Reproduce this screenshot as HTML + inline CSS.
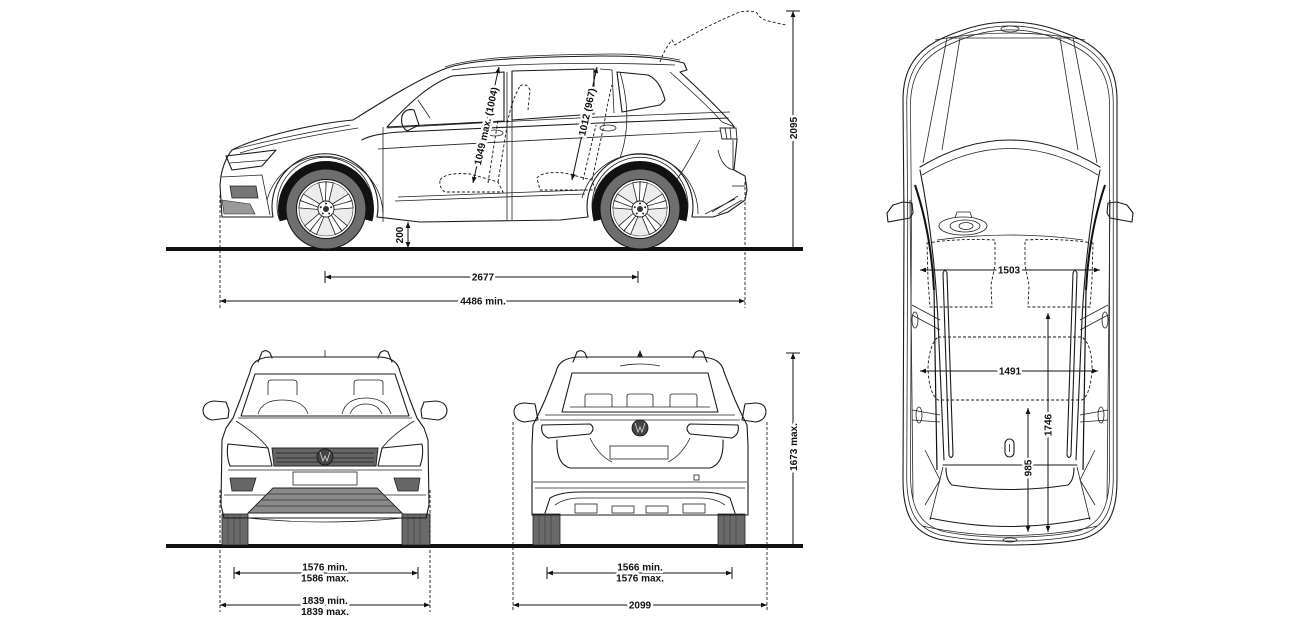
<!DOCTYPE html>
<html><head><meta charset="utf-8"><style>
html,body{margin:0;padding:0;background:#fff;}
svg{display:block}
text{font-family:"Liberation Sans",sans-serif;font-weight:bold;font-size:10px;fill:#111}
.t{stroke:#fff;stroke-width:5px;paint-order:stroke;stroke-linejoin:round}
.l{fill:none;stroke:#1a1a1a;stroke-width:1.1;stroke-linejoin:round;stroke-linecap:round}
.f{fill:none;stroke:#222;stroke-width:0.8}
.d{fill:none;stroke:#1a1a1a;stroke-width:0.9;stroke-dasharray:3 2}
.dim{fill:none;stroke:#111;stroke-width:1}
</style></head><body>
<svg width="1300" height="638" viewBox="0 0 1300 638" xmlns="http://www.w3.org/2000/svg">
<defs>
<marker id="a" viewBox="0 0 10 10" refX="10" refY="5" markerWidth="7" markerHeight="6" orient="auto-start-reverse"><path d="M0,1 L10,5 L0,9 z" fill="#111"/></marker>
<g id="spk"><path d="M-1.8,-8 L-3.6,-27 L3.6,-27 L1.8,-8 Z" fill="#fff" stroke="#222" stroke-width="0.8"/></g>
<g id="wheel">
  <path d="M-42.5,11.4 A44,44 0 1 1 42.5,11.4" fill="none" stroke="#111" stroke-width="8"/>
  <circle r="40" fill="#6e6e6e" stroke="#111" stroke-width="1"/>
  <circle r="29.5" fill="#fff" stroke="#111" stroke-width="1"/>
  <circle r="27" fill="#ececec" stroke="#333" stroke-width="0.6"/>
  <g transform="rotate(-8)"><use href="#spk"/></g><g transform="rotate(8)"><use href="#spk"/></g>
  <g transform="rotate(64)"><use href="#spk"/></g><g transform="rotate(80)"><use href="#spk"/></g>
  <g transform="rotate(136)"><use href="#spk"/></g><g transform="rotate(152)"><use href="#spk"/></g>
  <g transform="rotate(208)"><use href="#spk"/></g><g transform="rotate(224)"><use href="#spk"/></g>
  <g transform="rotate(280)"><use href="#spk"/></g><g transform="rotate(296)"><use href="#spk"/></g>
  <circle r="8" fill="#fff" stroke="#222" stroke-width="0.9"/>
  <circle r="3" fill="#333"/>
  <circle cx="0" cy="-5.5" r="1" fill="#222"/><circle cx="5.2" cy="-1.7" r="1" fill="#222"/><circle cx="3.2" cy="4.5" r="1" fill="#222"/><circle cx="-3.2" cy="4.5" r="1" fill="#222"/><circle cx="-5.2" cy="-1.7" r="1" fill="#222"/>
</g>
</defs>

<!-- ================= SIDE VIEW ================= -->
<line x1="166" y1="249" x2="803" y2="249" stroke="#111" stroke-width="4"/>

<path class="l" d="M222,217 L220,185 L221,176 Q224,160 232,150 C255,138 310,124 353,120 C385,100 420,78 447,68 C470,60 520,57 600,56 C640,56 665,58 684,63 L687,70 L680,72 C700,90 722,112 733,125 L737,140 L734,170 L745,176 L747,190 L745,200 L728,212 L713,217 L692,217 A53,53 0 1 0 588,217 L560,220 L420,222 L377,217 A53,53 0 1 0 273,217 Z"/>
<path class="f" d="M686,219 A48,48 0 1 0 594,219"/>
<path class="f" d="M371,219 A48,48 0 1 0 279,219"/>
<path class="f" d="M698,214 A59,59 0 0 0 582,198"/>
<path class="f" d="M383,214 A59,59 0 0 0 267,200"/>
<path class="f" d="M452,70 C500,63 600,62 675,65"/>
<path class="f" d="M445,67 C470,58 520,55 610,54 C640,54 660,56 680,60"/>
<path class="l" d="M387,127 C410,102 430,84 452,76 L504,72 L504,121 Z"/>
<path class="l" d="M512,71 L594,69 L594,114 L512,120 Z"/>
<path class="l" d="M617,72 L648,75 Q660,80 665,100 L660,105 L622,112 Z"/>
<path class="f" d="M600,69 L612,70 L614,113"/>
<path class="f" d="M670,72 C690,90 710,108 722,122 L735,127"/>
<path class="f" d="M383,127 L383,222"/>
<path class="f" d="M507,72 L507,220"/>
<path class="f" d="M512,120 L512,220"/>
<path class="f" d="M620,72 C628,100 630,130 620,158"/>
<path class="l" d="M362,140 Q372,134 400,132 C500,127 620,122 728,118"/>
<path class="f" d="M378,149 C450,144 600,137 700,132 L720,131"/>
<path class="f" d="M387,128 C480,123 600,116 730,112"/>
<path class="f" d="M398,197 L585,190"/>
<path class="f" d="M395,201 L585,194"/>
<ellipse class="f" cx="495" cy="133" rx="8" ry="3"/>
<ellipse class="f" cx="608" cy="128" rx="8" ry="3"/>
<path class="l" d="M402,116 Q405,108 414,110 L419,125 L407,131 Q400,126 402,116 Z"/>
<path class="f" d="M418,100 L430,118"/>
<path class="l" d="M226,156 L276,150 L262,166 L232,170 Z"/>
<path class="f" d="M230,163 L268,160"/>
<path class="f" d="M221,177 L262,175 L270,215"/>
<path d="M230,186 L256,186 L258,198 L232,198 Z" fill="#777" stroke="#222" stroke-width="0.8"/>
<path d="M222,200 L250,204 L255,214 L224,214 Z" fill="#999" stroke="#222" stroke-width="0.6"/>
<path class="f" d="M232,150 C270,140 310,132 350,125"/>
<path class="f" d="M240,153 C275,142 320,134 358,128"/>
<path d="M720,128 L736,128 L737,139 L722,139 Z" fill="#fff" stroke="#222" stroke-width="0.9"/>
<path class="f" d="M725,128 L727,139 M730,128 L731,139"/>
<path class="f" d="M733,140 L733,170 M734,170 Q722,168 718,150"/>
<path class="f" d="M700,140 C690,160 680,175 670,190"/>
<path class="f" d="M712,212 L738,196 M705,214 L735,199 M718,214 L742,200"/>
<path class="f" d="M732,186 L745,186"/>
<path class="d" d="M440,180 Q446,172 470,174 L498,182 L503,192 L445,192 Q439,188 440,180 Z"/>
<path class="d" d="M498,182 L508,120 Q512,100 520,86 M488,183 L498,120"/>
<path class="d" d="M537,178 Q542,171 565,173 L592,180 L595,190 L540,190 Z"/>
<path class="d" d="M592,180 L604,125 Q608,100 612,85 M583,180 L596,125"/>
<path class="d" d="M520,86 Q526,82 530,90 L528,110"/>
<path class="d" d="M660,62 Q664,50 672,40 L675,45 C700,30 720,20 740,12 Q752,10 757,13 Q760,18 765,20 C772,22 780,24 787,25"/>
<use href="#wheel" transform="translate(326,209)"/>
<use href="#wheel" transform="translate(640,209)"/>

<line class="d" x1="220" y1="195" x2="220" y2="308"/>
<line class="d" x1="745" y1="182" x2="745" y2="308"/>
<line class="dim" x1="325" y1="277" x2="638" y2="277" marker-start="url(#a)" marker-end="url(#a)"/>
<line class="dim" x1="325" y1="271" x2="325" y2="283"/>
<line class="dim" x1="638" y1="271" x2="638" y2="283"/>
<text class="t" x="483" y="280.5" text-anchor="middle">2677</text>
<line class="dim" x1="220" y1="301" x2="745" y2="301" marker-start="url(#a)" marker-end="url(#a)"/>
<text class="t" x="483" y="304.5" text-anchor="middle">4486 min.</text>
<line class="dim" x1="793" y1="11" x2="793" y2="248" marker-start="url(#a)"/>
<line class="dim" x1="786" y1="11" x2="800" y2="11" stroke-width="1.5"/>
<text class="t" x="797" y="128" text-anchor="middle" transform="rotate(-90 797 128)">2095</text>
<line class="dim" x1="408" y1="222" x2="408" y2="248" marker-start="url(#a)" marker-end="url(#a)"/>
<text x="403" y="235" text-anchor="middle" transform="rotate(-90 403 235)">200</text>
<line class="dim" x1="499" y1="67" x2="473" y2="183" marker-start="url(#a)" marker-end="url(#a)"/>
<text class="t" x="486" y="126" text-anchor="middle" transform="rotate(-77.4 486 126)" dy="3.5">1049 max. (1004)</text>
<line class="dim" x1="597" y1="67" x2="572" y2="180" marker-start="url(#a)" marker-end="url(#a)"/>
<text class="t" x="587" y="112" text-anchor="middle" transform="rotate(-77.5 587 112)" dy="3.5">1012 (967)</text>

<!-- ================= FRONT VIEW ================= -->
<line x1="166" y1="546" x2="803" y2="546" stroke="#111" stroke-width="4"/>
<rect x="222" y="514" width="26" height="31" fill="#6a6a6a" stroke="#222" stroke-width="0.8"/>
<rect x="402" y="514" width="28" height="31" fill="#6a6a6a" stroke="#222" stroke-width="0.8"/>
<path stroke="#444" stroke-width="0.7" d="M228,515 V545 M234,515 V545 M240,515 V545 M408,515 V545 M414,515 V545 M420,515 V545"/>
<path class="l" d="M250,372 C252,362 258,358 270,357 L380,357 C392,358 398,362 400,372 L410,400 L417,418 L424,428 L428,440 L429,505 L426,518 L400,518 L250,518 L224,518 L221,505 L222,440 L226,428 L233,418 L240,400 Z"/>
<path class="l" d="M258,362 L262,352 Q266,349 270,353 L272,358 M392,362 L388,352 Q384,349 380,353 L378,358"/>
<line class="f" x1="325" y1="350" x2="325" y2="357"/>
<path class="l" d="M255,374 L395,374 L409,416 L241,416 Z"/>
<path class="f" d="M268,395 L268,383 Q268,380 272,380 L293,380 Q297,380 297,383 L297,395 M258,414 Q262,400 282,400 Q304,400 308,414"/>
<path class="f" d="M354,395 L354,383 Q354,380 358,380 L379,380 Q383,380 383,383 L383,395 M342,414 Q346,398 366,398 Q386,398 391,414 M350,414 Q354,404 366,404 Q378,404 382,414"/>
<path class="f" d="M238,418 L412,418 M236,421 C250,430 262,440 268,448 M414,421 C400,430 388,440 382,448"/>
<path class="l" d="M228,444 L268,448 L272,466 L230,466 Q226,455 228,444 Z"/>
<path class="l" d="M422,444 L382,448 L378,466 L420,466 Q424,455 422,444 Z"/>
<path d="M272,448 L378,448 L376,466 L274,466 Z" fill="#666" stroke="#222" stroke-width="0.9"/>
<path stroke="#222" stroke-width="0.8" d="M276,453 H374 M276,458 H374 M276,462 H374"/>
<circle cx="325" cy="457" r="8" fill="#444" stroke="#111" stroke-width="0.8"/>
<path fill="none" stroke="#ddd" stroke-width="0.8" d="M320,452 L323,461 L325,456 L327,461 L330,452"/>
<path class="f" d="M228,470 L422,470 M224,495 L426,495"/>
<rect class="f" x="293" y="472" width="64" height="13"/>
<path d="M230,478 L256,478 L252,491 L232,491 Z" fill="#666" stroke="#222" stroke-width="0.8"/>
<path d="M420,478 L394,478 L398,491 L418,491 Z" fill="#666" stroke="#222" stroke-width="0.8"/>
<path d="M273,488 L377,488 L402,513 L248,513 Z" fill="#8a8a8a" stroke="#222" stroke-width="0.9"/>
<path stroke="#333" stroke-width="0.7" d="M268,494 H382 M262,500 H388 M256,506 H394"/>
<path class="f" d="M248,518 Q325,526 402,518"/>
<path class="l" d="M228,418 L212,420 Q203,418 203,410 Q204,402 214,401 L226,402 L229,410 Z"/>
<path class="l" d="M422,418 L438,420 Q447,418 447,410 Q446,402 436,401 L424,402 L421,410 Z"/>
<line class="d" x1="220" y1="490" x2="220" y2="612"/>
<line class="d" x1="430" y1="490" x2="430" y2="612"/>
<line class="dim" x1="234" y1="573" x2="418" y2="573" marker-start="url(#a)" marker-end="url(#a)"/>
<line class="dim" x1="234" y1="567" x2="234" y2="579"/>
<line class="dim" x1="418" y1="567" x2="418" y2="579"/>
<text class="t" x="325" y="570.5" text-anchor="middle">1576 min.</text>
<text class="t" x="325" y="581.5" text-anchor="middle">1586 max.</text>
<line class="dim" x1="220" y1="605" x2="430" y2="605" marker-start="url(#a)" marker-end="url(#a)"/>
<text class="t" x="325" y="604" text-anchor="middle">1839 min.</text>
<text class="t" x="325" y="615" text-anchor="middle">1839 max.</text>

<!-- ================= REAR VIEW ================= -->
<rect x="533" y="514" width="27" height="31" fill="#6a6a6a" stroke="#222" stroke-width="0.8"/>
<rect x="718" y="514" width="27" height="31" fill="#6a6a6a" stroke="#222" stroke-width="0.8"/>
<path stroke="#444" stroke-width="0.7" d="M539,515 V545 M545,515 V545 M551,515 V545 M724,515 V545 M730,515 V545 M736,515 V545"/>
<path class="l" d="M556,372 C558,362 565,358 578,357 L702,357 C715,358 722,362 724,372 L735,400 L742,415 L747,425 L748,445 L748,515 L532,515 L532,445 L533,425 L538,415 L545,400 Z"/>
<path class="l" d="M573,362 L577,352 Q581,349 585,353 L587,358 M707,362 L703,352 Q699,349 695,353 L693,358"/>
<path d="M637,357 L640,350 L643,357 Z" fill="#222"/>
<path class="f" d="M620,366 Q640,362 660,366"/>
<path class="l" d="M572,373 L708,373 L718,412 L562,412 Z"/>
<path class="f" d="M585,407 L585,396 Q585,394 588,394 L609,394 Q612,394 612,396 L612,407 M627,407 L627,396 Q627,394 630,394 L650,394 Q653,394 653,396 L653,407 M670,407 L670,396 Q670,394 673,394 L694,394 Q697,394 697,396 L697,407 M570,407 L710,407"/>
<path class="f" d="M545,415 L735,415 M540,420 L740,420"/>
<path class="l" d="M542,425 L590,424 Q596,428 590,434 L548,438 Q540,434 542,425 Z"/>
<path class="l" d="M738,425 L690,424 Q684,428 690,434 L732,438 Q740,434 738,425 Z"/>
<circle cx="640" cy="428" r="8" fill="#444" stroke="#111" stroke-width="0.8"/>
<path fill="none" stroke="#ddd" stroke-width="0.8" d="M635,423 L638,432 L640,427 L642,432 L645,423"/>
<path class="l" d="M557,440 Q556,464 570,468 L710,468 Q724,464 723,440"/>
<path class="f" d="M590,438 Q598,455 612,462 M690,438 Q682,455 668,462"/>
<rect class="f" x="610" y="446" width="58" height="13"/>
<path class="f" d="M533,482 L747,482 M535,488 L745,488"/>
<rect class="f" x="694" y="475" width="5" height="5"/>
<path class="l" d="M545,513 L550,498 Q560,492 580,492 L700,492 Q720,492 730,498 L735,513"/>
<path class="f" d="M555,505 Q565,498 580,498 L700,498 Q715,498 725,505"/>
<rect x="575" y="504" width="22" height="9" fill="#fff" stroke="#222" stroke-width="0.8"/>
<rect x="612" y="506" width="22" height="7" fill="#fff" stroke="#222" stroke-width="0.8"/>
<rect x="646" y="506" width="22" height="7" fill="#fff" stroke="#222" stroke-width="0.8"/>
<rect x="683" y="504" width="22" height="9" fill="#fff" stroke="#222" stroke-width="0.8"/>
<path class="l" d="M538,420 L524,422 Q514,420 514,411 Q515,403 525,403 L535,404 Z"/>
<path class="l" d="M742,420 L756,422 Q766,420 766,411 Q765,403 755,403 L745,404 Z"/>
<line class="d" x1="513" y1="422" x2="513" y2="612"/>
<line class="d" x1="767" y1="422" x2="767" y2="612"/>
<line class="dim" x1="547" y1="573" x2="732" y2="573" marker-start="url(#a)" marker-end="url(#a)"/>
<line class="dim" x1="547" y1="567" x2="547" y2="579"/>
<line class="dim" x1="732" y1="567" x2="732" y2="579"/>
<text class="t" x="640" y="570.5" text-anchor="middle">1566 min.</text>
<text class="t" x="640" y="581.5" text-anchor="middle">1576 max.</text>
<line class="dim" x1="513" y1="605" x2="767" y2="605" marker-start="url(#a)" marker-end="url(#a)"/>
<text class="t" x="640" y="608.5" text-anchor="middle">2099</text>
<line class="dim" x1="793" y1="353" x2="793" y2="545" marker-start="url(#a)"/>
<line class="dim" x1="786" y1="353" x2="800" y2="353" stroke-width="1.5"/>
<text class="t" x="797" y="447" text-anchor="middle" transform="rotate(-90 797 447)">1673 max.</text>

<!-- ================= TOP VIEW ================= -->
<path class="l" d="M904,220 L903,100 C903,70 915,50 945,37 C970,26 990,22 1010,22 C1030,22 1050,26 1075,37 C1105,50 1117,70 1117,100 L1117,480 C1117,515 1107,532 1082,539 C1062,543 1036,545 1010,545 C984,545 958,543 938,539 C913,532 903,515 903,480 Z"/>
<g transform="translate(1010,283) scale(0.965,0.985) translate(-1010,-283)"><path class="f" d="M904,220 L903,100 C903,70 915,50 945,37 C970,26 990,22 1010,22 C1030,22 1050,26 1075,37 C1105,50 1117,70 1117,100 L1117,480 C1117,515 1107,532 1082,539 C1062,543 1036,545 1010,545 C984,545 958,543 938,539 C913,532 903,515 903,480 Z"/></g>
<g transform="translate(1010,283) scale(0.93,0.97) translate(-1010,-283)"><path class="f" d="M904,220 L903,100 C903,70 915,50 945,37 C970,26 990,22 1010,22 C1030,22 1050,26 1075,37 C1105,50 1117,70 1117,100 L1117,480 C1117,515 1107,532 1082,539 C1062,543 1036,545 1010,545 C984,545 958,543 938,539 C913,532 903,515 903,480 Z"/></g>
<ellipse class="f" cx="1010" cy="29" rx="9" ry="3"/>
<path class="f" d="M935,40 Q1010,26 1085,40 M947,38 L1073,38"/>
<path class="f" d="M960,38 L942,150 M947,38 L923,163 M1060,38 L1078,150 M1073,38 L1097,163"/>
<path class="l" d="M920,167 Q1010,113 1100,167"/>
<path class="f" d="M922,175 Q1010,122 1098,175"/>
<path class="l" d="M920,170 C928,210 935,260 938,320 L944,460"/>
<path class="l" d="M1100,170 C1092,210 1085,260 1082,320 L1076,460"/>
<path fill="none" stroke="#111" stroke-width="2" d="M915,185 C925,215 932,250 934,290"/>
<path fill="none" stroke="#111" stroke-width="2" d="M1105,185 C1095,215 1088,250 1086,290"/>
<path fill="none" stroke="#111" stroke-width="1.2" d="M934,290 L937,470 M1086,290 L1083,470"/>
<path class="f" d="M910,200 L913,500 M1110,200 L1107,500"/>
<path class="l" d="M943,273 Q945,268 947,273 L953,455 Q951,460 949,455 Z"/>
<path class="l" d="M1077,273 Q1075,268 1073,273 L1067,455 Q1069,460 1071,455 Z"/>
<path class="f" d="M912,305 L940,320 M912,315 L940,330 M912,410 L940,415 M912,420 L940,422 M1108,305 L1080,320 M1108,315 L1080,330 M1108,410 L1080,415 M1108,420 L1080,422"/>
<path class="f" d="M925,450 L940,480 L925,505 M1095,450 L1080,480 L1095,505"/>
<ellipse class="f" cx="915" cy="320" rx="3" ry="8"/><ellipse class="f" cx="1105" cy="320" rx="3" ry="8"/>
<ellipse class="f" cx="919" cy="415" rx="3" ry="8"/><ellipse class="f" cx="1101" cy="415" rx="3" ry="8"/>
<path class="f" d="M955,218 L957,212 L970,212 L972,218"/>
<ellipse class="f" cx="963" cy="226" rx="24" ry="9"/>
<ellipse class="f" cx="965" cy="226" rx="15" ry="6"/>
<ellipse class="f" cx="966" cy="226" rx="7" ry="3.5"/>
<path class="f" d="M937,240 Q1010,230 1083,240"/>
<path class="l" d="M943,465 L1077,465"/>
<path class="l" d="M946,468 Q946,480 952,485 Q1010,494 1068,485 Q1074,480 1074,468"/>
<path class="f" d="M943,467 L930,520 M1077,467 L1090,520"/>
<path class="l" d="M930,518 Q1010,535 1090,518"/>
<path class="f" d="M922,526 Q1010,545 1098,526"/>
<ellipse class="f" cx="1010" cy="540" rx="7" ry="2"/>
<rect class="l" x="1005" y="439" width="9" height="18" rx="4.5"/>
<line class="f" x1="1009.5" y1="444" x2="1009.5" y2="452"/>
<path class="l" d="M887,213 L893,205 L903,202 L912,203 L913,213 L910,218 L888,222 Z"/>
<path class="l" d="M1133,213 L1127,205 L1117,202 L1108,203 L1107,213 L1110,218 L1132,222 Z"/>
<path class="d" d="M927,243 Q960,238 995,240 L995,265 L991,285 L992,307 L930,307 L928,280 Z"/>
<path class="d" d="M1093,243 Q1060,238 1025,240 L1025,265 L1029,285 L1028,307 L1090,307 L1092,280 Z"/>
<path class="d" d="M938,337 L1082,337 Q1092,345 1092,368 Q1091,394 1082,400 L938,400 Q929,394 928,368 Q929,345 938,337 Z"/>
<line class="dim" x1="920" y1="270" x2="1100" y2="270" marker-start="url(#a)" marker-end="url(#a)"/>
<text class="t" x="1009" y="273.5" text-anchor="middle">1503</text>
<line class="dim" x1="920" y1="371" x2="1098" y2="371" marker-start="url(#a)" marker-end="url(#a)"/>
<text class="t" x="1010" y="374.5" text-anchor="middle">1491</text>
<line class="dim" x1="1048" y1="313" x2="1048" y2="532" marker-start="url(#a)" marker-end="url(#a)"/>
<text class="t" x="1051.5" y="425" text-anchor="middle" transform="rotate(-90 1051.5 425)">1746</text>
<line class="dim" x1="1028" y1="408" x2="1028" y2="532" marker-start="url(#a)" marker-end="url(#a)"/>
<text class="t" x="1031.5" y="468" text-anchor="middle" transform="rotate(-90 1031.5 468)">985</text>
</svg>
</body></html>
